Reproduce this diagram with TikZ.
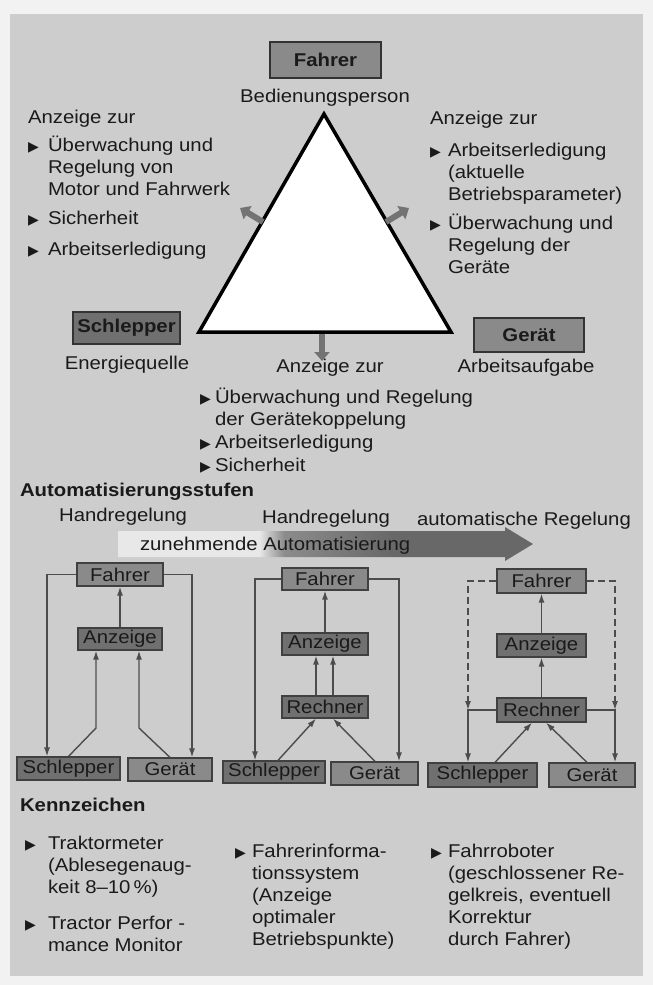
\documentclass[tikz,border=0pt]{standalone}
\usepackage{fontspec}
\setmainfont[FakeStretch=1.1]{Liberation Sans}
\newfontfamily\symfont{DejaVu Sans}
\usetikzlibrary{arrows.meta,calc}
\definecolor{panel}{HTML}{CDCDCD}
\definecolor{outerc}{HTML}{F2F2F2}
\definecolor{ink}{HTML}{1A1A1A}
\definecolor{boxA}{HTML}{8A8A8A}
\definecolor{boxB}{HTML}{707070}
\definecolor{lite}{HTML}{E8E8E8}
\definecolor{midg}{HTML}{8C8C8C}
\definecolor{darkg}{HTML}{686868}
\pgfdeclarehorizontalshading{autoshade}{100bp}{color(0bp)=(lite); color(25bp)=(lite); color(42bp)=(lite); color(45bp)=(midg); color(58bp)=(darkg); color(100bp)=(darkg)}
\newcommand{\myfs}{\fontsize{18.5}{22}\selectfont}
\newcommand{\bul}{{\symfont\fontsize{14}{14}\selectfont ▶}}
\tikzset{
  txt/.style={inner sep=0pt, outer sep=0pt, text=ink, font=\myfs},
  blk/.style={txt, anchor=north west, align=left},
  bigbox/.style={draw=black!80, line width=1.6pt, inner sep=0pt, font=\myfs\bfseries, text=ink},
  sbox/.style={draw=black!75, line width=1.2pt, inner sep=0pt, font=\myfs, text=ink},
  conn/.style={draw=black!70, line width=1.4pt, -{Latex[length=9pt,width=6pt]}},
  dconn/.style={conn, dash pattern=on 7pt off 4pt},
  fat/.style={line width=6pt, draw=black!55, -{Triangle[length=9pt,width=15pt]}}
}
\begin{document}
\begin{tikzpicture}[x=1pt,y=-1pt]
\useasboundingbox (0,0) rectangle (653,985);
\fill[outerc] (0,0) rectangle (653,985);
\fill[panel] (10,14) rectangle (643,976);

% ---------- top triangle part ----------
\node[bigbox, fill=boxA, minimum width=111pt, minimum height=36pt] (fahrer) at (325.5,60) {Fahrer};
\node[txt] (bed) at (325,98) {Bedienungsperson};
\coordinate (apex) at (324,114);
\coordinate (bl) at (199,332);
\coordinate (br) at (451,332);
\draw[line width=3.5pt, fill=white, line join=miter] (apex) -- (bl) -- (br) -- cycle;
\node[bigbox, fill=boxB, minimum width=107pt, minimum height=32pt] (schlepper) at (126.5,328) {Schlepper};
\node[txt] (energ) at (127,365) {Energiequelle};
\node[bigbox, fill=boxA, minimum width=110pt, minimum height=34pt] (geraet) at (529,335) {Gerät};
\node[txt] (arbauf) at (526,368) {Arbeitsaufgabe};

\coordinate (la) at (263,222);
\coordinate (lb) at (240,208);
\coordinate (ra) at (386,222);
\coordinate (rb) at (409,208);
\coordinate (ba) at (322,334);
\coordinate (bb) at (322,361);
\draw[fat] (la) -- (lb);
\draw[fat] (ra) -- (rb);
\draw[fat] (ba) -- (bb);

\node[blk] (lefttxt) at (28,108) {\begin{tabular}{@{}l@{}l@{}}
\multicolumn{2}{@{}l@{}}{Anzeige zur}\\[6pt]
\makebox[20pt][l]{\bul} & Überwachung und\\
 & Regelung von\\
 & Motor und Fahrwerk\\[7pt]
\makebox[20pt][l]{\bul} & Sicherheit\\[9pt]
\makebox[20pt][l]{\bul} & Arbeitserledigung
\end{tabular}};

\node[blk] (righttxt) at (430,109) {\begin{tabular}{@{}l@{}l@{}}
\multicolumn{2}{@{}l@{}}{Anzeige zur}\\[10pt]
\makebox[18pt][l]{\bul} & Arbeitserledigung\\
 & (aktuelle\\
 & Betriebsparameter)\\[7pt]
\makebox[18pt][l]{\bul} & Überwachung und\\
 & Regelung der\\
 & Geräte
\end{tabular}};

\node[txt] (anzb) at (330,368) {Anzeige zur};
\node[blk] (bottxt) at (200,387.6) {\begin{tabular}{@{}l@{}l@{}}
\makebox[15pt][l]{\bul} & Überwachung und Regelung\\
 & der Gerätekoppelung\\[1pt]
\makebox[15pt][l]{\bul} & Arbeitserledigung\\[1pt]
\makebox[15pt][l]{\bul} & Sicherheit
\end{tabular}};

% ---------- Automatisierungsstufen ----------
\node[txt, anchor=west, font=\myfs\bfseries] (autost) at (20,492) {Automatisierungsstufen};
\node[txt] (hand1) at (123,517) {Handregelung};
\node[txt] (hand2) at (326,519) {Handregelung};
\node[txt] (autor) at (524,521) {automatische Regelung};
\shade[shading=autoshade] (118,531) -- (505,531) -- (505,527) -- (533,544) -- (505,561) -- (505,557) -- (118,557) -- cycle;
\node[txt, anchor=west] (zun) at (140,546) {zunehmende Automatisierung};

% ---------- diagram 1 ----------
\node[sbox, fill=boxA, minimum width=86pt, minimum height=23pt] (f1) at (120,574.5) {Fahrer};
\node[sbox, fill=boxB, minimum width=84pt, minimum height=22pt] (a1) at (120,639) {Anzeige};
\node[sbox, fill=boxB, minimum width=103pt, minimum height=23pt] (s1) at (68.5,768.5) {Schlepper};
\node[sbox, fill=boxA, minimum width=84pt, minimum height=23pt] (g1) at (170,769.5) {Gerät};
\coordinate (d1l) at (47,0);
\coordinate (d1r) at (192,0);
\coordinate (d1k1) at (96,728);
\coordinate (d1k2) at (139,728);
\draw[conn] (f1.west) -| (s1.north -| d1l);
\draw[conn] (f1.east) -| (g1.north -| d1r);
\draw[conn] (a1.north) -- (f1.south);
\draw[conn] (s1.north) -- (d1k1) -- (a1.south -| d1k1);
\draw[conn] (g1.north) -- (d1k2) -- (a1.south -| d1k2);

% ---------- diagram 2 ----------
\node[sbox, fill=boxA, minimum width=86pt, minimum height=22pt] (f2) at (325,579) {Fahrer};
\node[sbox, fill=boxB, minimum width=86pt, minimum height=22pt] (a2) at (325,644) {Anzeige};
\node[sbox, fill=boxB, minimum width=86pt, minimum height=22pt] (r2) at (325,707) {Rechner};
\node[sbox, fill=boxB, minimum width=102pt, minimum height=22pt] (s2) at (274,772) {Schlepper};
\node[sbox, fill=boxA, minimum width=87pt, minimum height=23pt] (g2) at (374.5,773.5) {Gerät};
\coordinate (d2l) at (255,0);
\coordinate (d2r) at (399,0);
\coordinate (d2x1) at (316,0);
\coordinate (d2x2) at (333,0);
\coordinate (d2s) at (278,0);
\coordinate (d2g) at (375,0);
\draw[conn] (f2.west) -| (s2.north -| d2l);
\draw[conn] (f2.east) -| (g2.north -| d2r);
\draw[conn] (a2.north) -- (f2.south);
\draw[conn] (r2.north -| d2x1) -- (a2.south -| d2x1);
\draw[conn] (r2.north -| d2x2) -- (a2.south -| d2x2);
\draw[conn] (s2.north -| d2s) -- (r2.south -| d2x1);
\draw[conn] (g2.north -| d2g) -- (r2.south -| d2x2);

% ---------- diagram 3 ----------
\node[sbox, fill=boxA, minimum width=89pt, minimum height=24pt] (f3) at (541.5,581) {Fahrer};
\node[sbox, fill=boxB, minimum width=89pt, minimum height=23pt] (a3) at (541.5,645.5) {Anzeige};
\node[sbox, fill=boxB, minimum width=89pt, minimum height=24pt] (r3) at (541.5,710) {Rechner};
\node[sbox, fill=boxB, minimum width=109pt, minimum height=24pt] (s3) at (482.5,775) {Schlepper};
\node[sbox, fill=boxA, minimum width=86pt, minimum height=24pt] (g3) at (592,775) {Gerät};
\coordinate (j3l) at (468,710);
\coordinate (j3r) at (615,710);
\coordinate (d3x1) at (532,0);
\coordinate (d3x2) at (546,0);
\coordinate (d3s) at (495,0);
\coordinate (d3g) at (587,0);
\draw[dconn] (f3.west) -| (j3l);
\draw[dconn] (f3.east) -| (j3r);
\draw[conn] (r3.west) -| (s3.north -| j3l);
\draw[conn] (r3.east) -| (g3.north -| j3r);
\draw[conn] (a3.north) -- (f3.south);
\draw[conn] (r3.north) -- (a3.south);
\draw[conn] (s3.north -| d3s) -- (r3.south -| d3x1);
\draw[conn] (g3.north -| d3g) -- (r3.south -| d3x2);

% ---------- Kennzeichen ----------
\node[txt, anchor=west, font=\myfs\bfseries] (kenn) at (20,805) {Kennzeichen};
\node[blk] (k1) at (25,833.6) {\begin{tabular}{@{}l@{}l@{}}
\makebox[23pt][l]{\bul} & Traktormeter\\
 & (Ablesegenaug-\\
 & keit 8--10\,\%)\\[14pt]
\makebox[23pt][l]{\bul} & Tractor Perfor -\\
 & mance Monitor
\end{tabular}};
\node[blk] (k2) at (235,841.6) {\begin{tabular}{@{}l@{}l@{}}
\makebox[17pt][l]{\bul} & Fahrerinforma-\\
 & tionssystem\\
 & (Anzeige\\
 & optimaler\\
 & Betriebspunkte)
\end{tabular}};
\node[blk] (k3) at (431,841.6) {\begin{tabular}{@{}l@{}l@{}}
\makebox[17pt][l]{\bul} & Fahrroboter\\
 & (geschlossener Re-\\
 & gelkreis, eventuell\\
 & Korrektur\\
 & durch Fahrer)
\end{tabular}};
\end{tikzpicture}
\end{document}
